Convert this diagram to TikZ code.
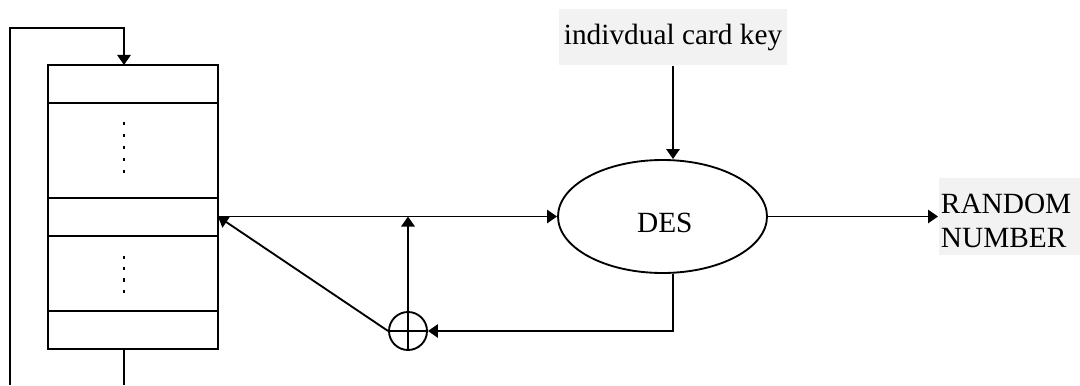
\documentclass[tikz,border=0pt]{standalone}
\usepackage{fontspec}
\setmainfont{Liberation Serif}
\usetikzlibrary{arrows.meta,shapes.geometric}
\definecolor{boxgray}{HTML}{F2F2F2}
\begin{document}
\begin{tikzpicture}[x=0.75pt,y=-0.75pt,
  line width=1.4pt,
  arr/.style={-{Triangle[length=7.5pt,width=10pt]}},
  lbl/.style={font=\fontsize{22}{25.5}\selectfont},
  graybox/.style={lbl,fill=boxgray,draw=none,inner sep=0pt},
  regbox/.style={draw,rectangle,inner sep=0pt,minimum width=127.5pt,minimum height=213pt},
  desbox/.style={lbl,draw,ellipse,inner sep=0pt,minimum width=156.75pt,minimum height=84.75pt},
  xorbox/.style={draw,circle,inner sep=0pt,minimum size=28.5pt},
  dotsA/.style={line width=1.6pt,dash pattern=on 2.25pt off 6.75pt},
  dotsB/.style={line width=1.6pt,dash pattern=on 2.6pt off 6pt}]
\useasboundingbox (0,0) rectangle (1080,385);

% nodes
\node[regbox] (reg) at (133,207) {};
\node[desbox] (des) at (662.5,216.5) {\hspace*{3.5pt}\raisebox{-12.2pt}[0pt][0pt]{DES}};
\node[graybox,minimum width=171pt,minimum height=42pt] (key) at (673,37) {indivdual card key};
\node[graybox,anchor=west,minimum width=106.5pt,minimum height=57.75pt,inner xsep=1.5pt] (rn) at (938,216.5)
  {\makebox[103.5pt][l]{\raisebox{1.9pt}[0pt][0pt]{\begin{tabular}[t]{@{}l@{}}RANDOM\\NUMBER\end{tabular}}}};
\node[xorbox] (xor) at (408,331) {};

% register slices
\foreach \yy in {103,198,236,311}
  \draw (reg.west |- 0,\yy) -- (reg.east |- 0,\yy);
\draw[dotsA] (124,121.5) -- (124,174.5);
\draw[dotsB] (124,255.5) -- (124,293.5);

% coordinates
\coordinate (fbl) at (10,385);
\coordinate (fbc) at (124,28);
\coordinate (regin) at (124,65);
\coordinate (regout) at (124,349);
\coordinate (fbb) at (124,385);
\coordinate (regport) at (218,216.5);

% connectors
\draw[arr] (fbl) |- (fbc) -- (regin);
\draw (regout) -- (fbb);
\draw[arr] (key.south) -- (key.south |- des.north);
\draw[arr] (regport) -- (des.west);
\draw[arr] (des.east) -- (rn.west);
\draw[arr] (des.south -| key.south) |- (xor.east);
\draw (xor.south) -- (xor.north);
\draw (xor.west) -- (xor.east);
\draw[arr] (xor.north) -- (xor.north |- des.west);
\draw[arr] (xor.west) -- (regport);
\end{tikzpicture}
\end{document}
